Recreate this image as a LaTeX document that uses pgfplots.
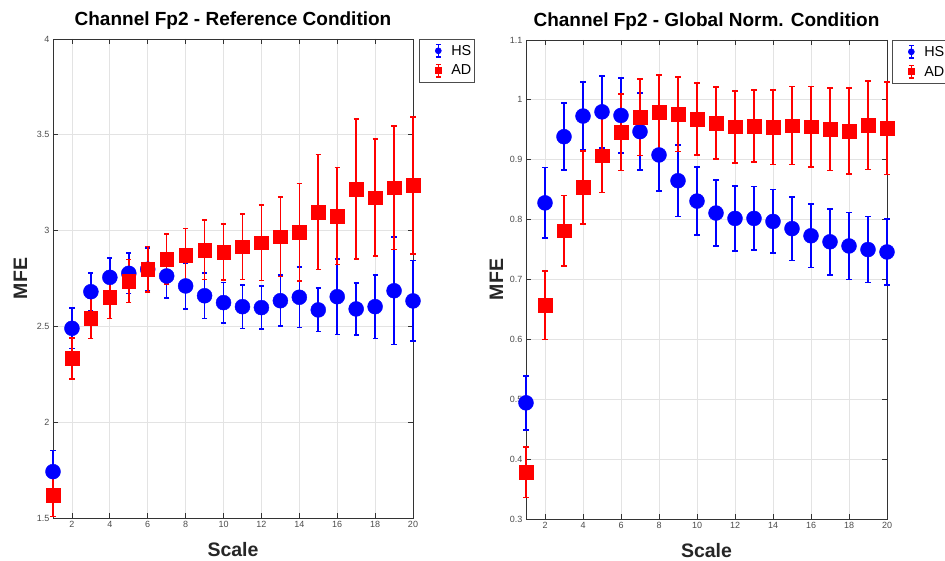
\documentclass[border=0pt]{standalone}
\usepackage{fontspec}
\setmainfont{Liberation Sans}
\usepackage{pgfplots}
\pgfplotsset{compat=1.18}
\definecolor{hs}{RGB}{0,0,255}
\definecolor{ad}{RGB}{255,0,0}
\definecolor{gridc}{HTML}{E3E3E3}
\definecolor{axc}{HTML}{333333}

% HS / AD, reference condition
\pgfplotstableread{
x y e
1 1.742 0.111
2 2.490 0.106
3 2.681 0.099
4 2.756 0.100
5 2.777 0.105
6 2.798 0.110
7 2.763 0.115
8 2.711 0.120
9 2.660 0.119
10 2.624 0.106
11 2.603 0.113
12 2.598 0.113
13 2.634 0.133
14 2.652 0.157
15 2.586 0.113
16 2.655 0.197
17 2.591 0.135
18 2.603 0.166
19 2.686 0.280
20 2.633 0.210
}\refHS
\pgfplotstableread{
x y e
1 1.620 0.113
2 2.333 0.107
3 2.542 0.105
4 2.652 0.110
5 2.737 0.113
6 2.798 0.118
7 2.852 0.130
8 2.873 0.138
9 2.899 0.155
10 2.887 0.146
11 2.916 0.172
12 2.937 0.198
13 2.968 0.207
14 2.991 0.254
15 3.097 0.300
16 3.076 0.253
17 3.216 0.365
18 3.172 0.305
19 3.224 0.323
20 3.236 0.358
}\refAD
% global norm. condition
\pgfplotstableread{
x y e
1 0.494 0.045
2 0.828 0.059
3 0.9385 0.056
4 0.973 0.057
5 0.980 0.060
6 0.974 0.063
7 0.947 0.064
8 0.908 0.060
9 0.865 0.060
10 0.831 0.057
11 0.811 0.055
12 0.802 0.054
13 0.802 0.053
14 0.797 0.053
15 0.785 0.053
16 0.773 0.053
17 0.763 0.055
18 0.756 0.056
19 0.750 0.055
20 0.746 0.055
}\gnHS
\pgfplotstableread{
x y e
1 0.378 0.042
2 0.657 0.057
3 0.7815 0.059
4 0.854 0.061
5 0.907 0.062
6 0.946 0.064
7 0.971 0.064
8 0.979 0.063
9 0.976 0.062
10 0.968 0.060
11 0.961 0.060
12 0.955 0.060
13 0.956 0.060
14 0.954 0.062
15 0.957 0.065
16 0.955 0.067
17 0.951 0.069
18 0.948 0.072
19 0.9575 0.074
20 0.9525 0.077
}\gnAD

\pgfplotsset{
  mfe/.style={
    scale only axis,
    xmin=1, xmax=20,
    xtick={2,4,...,20},
    grid=major,
    grid style={gridc, line width=0.8pt},
    axis line style={axc, line width=0.8pt},
    tick style={axc, line width=0.8pt},
    major tick length=5pt,
    clip=false,
    /pgf/number format/assume math mode=true,
    ticklabel style={font=\fontsize{9}{10}\selectfont, text=black!70},
    title style={at={(axis description cs:0.5,1)}, anchor=base, yshift=7pt,
      font=\fontsize{19}{21}\selectfont\bfseries},
    xlabel style={at={(axis description cs:0.5,0)}, anchor=base, yshift=-39pt,
      font=\fontsize{19.5}{21}\selectfont\bfseries, text=black!85},
    ylabel style={anchor=base, font=\fontsize{19.5}{21}\selectfont\bfseries, text=black!85},
    legend cell align=left,
    legend style={anchor=north west, draw=black!70, line width=0.6pt,
      font=\fontsize{14.4}{15}\selectfont, inner xsep=3pt, inner ysep=2pt,
      row sep=1pt, nodes={inner sep=0pt}},
    legend image code/.code={
      \path[draw=none, fill=none] (-16pt,-9.5pt) rectangle (13pt,9.5pt);
      \draw[#1, line width=1.4pt] (0pt,-6.3pt)--(0pt,6.3pt)
        (-2.5pt,6.3pt)--(2.5pt,6.3pt) (-2.5pt,-6.3pt)--(2.5pt,-6.3pt);
      \path[#1, mark size=3pt] plot[only marks] coordinates {(0pt,0pt)};
    },
  },
  hsplot/.style={only marks, color=hs, mark=*, mark size=7.5pt,
    error bars/.cd, y dir=both, y explicit,
    error bar style={line width=1.6pt, hs},
    error mark options={rotate=90, line width=1.6pt, mark size=2.6pt, hs}},
  adplot/.style={only marks, color=ad, mark=square*, mark size=6.8pt,
    error bars/.cd, y dir=both, y explicit,
    error bar style={line width=1.6pt, ad},
    error mark options={rotate=90, line width=1.6pt, mark size=2.6pt, ad}},
}

\begin{document}
\begin{tikzpicture}
\begin{axis}[mfe,
  at={(53pt,43pt)}, anchor=south west,
  width=360pt, height=479pt,
  ymin=1.5, ymax=4, ytick={1.5,2,...,4},
  title={Channel Fp2 - Reference Condition},
  xlabel={Scale}, ylabel={MFE},
  ylabel style={at={(axis description cs:-0.0722,0.5)}},
  legend style={at={(axis description cs:1.0167,1)}},
]
\addplot[hsplot] table[x=x, y=y, y error=e] {\refHS};
\addlegendentry{HS}
\addplot[adplot] table[x=x, y=y, y error=e] {\refAD};
\addlegendentry{AD}
\end{axis}

\begin{axis}[mfe,
  at={(526pt,42pt)}, anchor=south west,
  width=361pt, height=479pt,
  ymin=0.3, ymax=1.1, ytick={0.3,0.4,...,1.1},
  title={Channel Fp2 - Global Norm. Condition},
  xlabel={Scale}, ylabel={MFE},
  ylabel style={at={(axis description cs:-0.0637,0.5)}},
  legend style={at={(axis description cs:1.0139,1)}},
]
\addplot[hsplot] table[x=x, y=y, y error=e] {\gnHS};
\addlegendentry{HS}
\addplot[adplot] table[x=x, y=y, y error=e] {\gnAD};
\addlegendentry{AD}
\end{axis}

\pgfresetboundingbox
\useasboundingbox (0pt,0pt) rectangle (945pt,561pt);
\end{tikzpicture}
\end{document}
